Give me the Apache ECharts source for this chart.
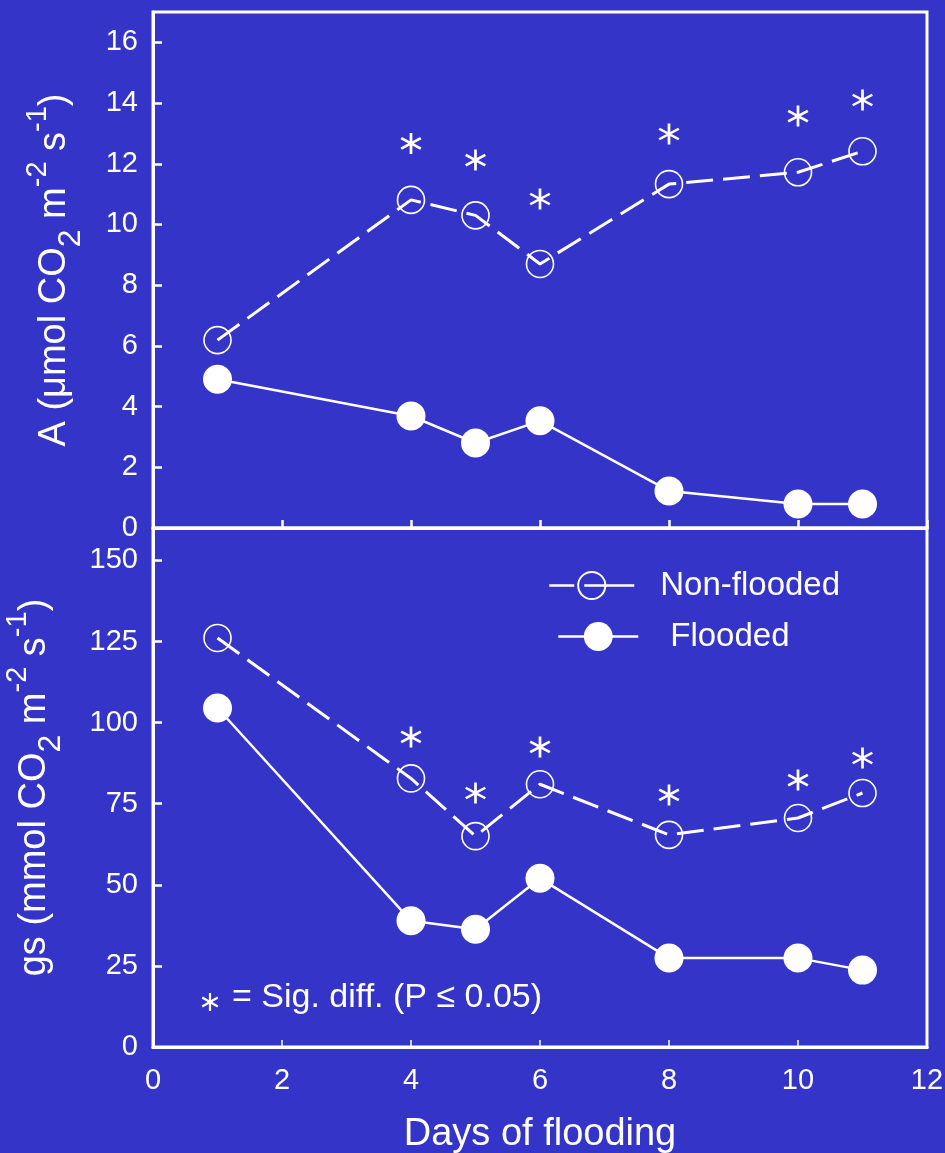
<!DOCTYPE html>
<html>
<head>
<meta charset="utf-8">
<script src="https://cdn.jsdelivr.net/npm/echarts@6/dist/echarts.min.js"></script>
<style>html,body{margin:0;padding:0;background:#3434C8;}#c{width:945px;height:1153px;}</style>
</head>
<body>
<div id="c"></div>
<script>
const days = [1, 4, 5, 6, 8, 10, 11];
const aNonFlooded = [6.19, 10.81, 10.30, 8.70, 11.33, 11.72, 12.41];
const aFlooded = [4.90, 3.69, 2.80, 3.53, 1.22, 0.79, 0.79];
const gsNonFlooded = [126.1, 82.8, 65.0, 81.0, 65.4, 70.6, 78.3];
const gsFlooded = [104.5, 38.9, 36.3, 52.0, 27.4, 27.4, 23.7];
const sigDays = [4, 5, 6, 8, 10, 11];
const aSigY = [12.67, 12.12, 10.84, 12.98, 13.57, 14.1];
const gsSigY = [95.6, 78.3, 92.5, 77.7, 82.3, 89.1];

const FONT = '"Liberation Sans", Arial, sans-serif';
const WHITE = '#ffffff';
const STAR = 'path://M8.8 0L11.2 0L11.2 20L8.8 20ZM18.06 3.96L19.26 6.04L1.94 16.04L0.74 13.96ZM19.26 13.96L18.06 16.04L0.74 6.04L1.94 3.96Z';

const pairs = (xs, ys) => xs.map((x, i) => [x, ys[i]]);

const rich = {
  n: { fontSize: 38, lineHeight: 64, verticalAlign: 'middle', color: WHITE, fontFamily: FONT },
  sub: { fontSize: 32, lineHeight: 52, verticalAlign: 'bottom', color: WHITE, fontFamily: FONT },
  sup: { fontSize: 29, lineHeight: 29, verticalAlign: 'top', color: WHITE, fontFamily: FONT }
};

function yAxis(gridIndex, max, interval, name, nameGap) {
  return {
    type: 'value', gridIndex, min: 0, max, interval,
    name, nameLocation: 'middle', nameGap, nameRotate: 90,
    nameTextStyle: { rich },
    axisLine: { show: true, lineStyle: { color: WHITE, width: 3 } },
    axisTick: { show: true, inside: true, length: 9, lineStyle: { color: WHITE, width: 2.5 } },
    axisLabel: { show: true, color: WHITE, fontSize: 29, fontFamily: FONT, margin: 15, showMaxLabel: false },
    splitLine: { show: false }
  };
}

const openStyle = {
  symbol: 'circle', symbolSize: 27,
  itemStyle: { color: 'rgba(0,0,0,0)', borderColor: WHITE, borderWidth: 1.6 },
  lineStyle: { color: WHITE, width: 3, type: [27, 10] }
};
const filledStyle = {
  symbol: 'circle', symbolSize: 29,
  itemStyle: { color: WHITE, borderColor: WHITE, borderWidth: 0 },
  lineStyle: { color: WHITE, width: 2.5, type: 'solid' }
};

function lineSeries(name, xi, yi, data, st) {
  return Object.assign({
    type: 'line', name, xAxisIndex: xi, yAxisIndex: yi, data,
    showSymbol: true, animation: false, z: 3
  }, JSON.parse(JSON.stringify(st)));
}

function starSeries(xi, yi, data) {
  return {
    type: 'scatter', xAxisIndex: xi, yAxisIndex: yi, data,
    symbol: STAR, symbolSize: 21, itemStyle: { color: WHITE, opacity: 1 }, animation: false,
    silent: true
  };
}

function starBars() {
  return [0, Math.PI / 3, -Math.PI / 3].map(r => ({
    type: 'rect', rotation: r,
    shape: { x: -1.1, y: -9, width: 2.2, height: 18 },
    style: { fill: WHITE }
  }));
}

const option = {
  backgroundColor: '#3434C8',
  animation: false,
  textStyle: { fontFamily: FONT, color: WHITE },
  grid: [
    { left: 153, top: 12, width: 774, height: 516, show: true, borderColor: WHITE, borderWidth: 3, backgroundColor: 'transparent', containLabel: false, outerBoundsMode: 'none' },
    { left: 153, top: 528, width: 774, height: 519, show: true, borderColor: WHITE, borderWidth: 3, backgroundColor: 'transparent', containLabel: false, outerBoundsMode: 'none' }
  ],
  xAxis: [
    {
      type: 'value', gridIndex: 0, min: 0, max: 12, interval: 2,
      axisLine: { show: true, onZero: false, lineStyle: { color: WHITE, width: 3 } },
      axisTick: { show: true, inside: true, length: 8, lineStyle: { color: WHITE, width: 2.5 } },
      axisLabel: { show: false }, splitLine: { show: false }
    },
    {
      type: 'value', gridIndex: 1, min: 0, max: 12, interval: 2,
      name: 'Days of flooding', nameLocation: 'middle', nameGap: 69,
      nameTextStyle: { color: WHITE, fontSize: 38, fontFamily: FONT },
      axisLine: { show: true, onZero: false, lineStyle: { color: WHITE, width: 3 } },
      axisTick: { show: true, inside: true, length: 7, lineStyle: { color: WHITE, width: 1.5 } },
      axisLabel: { show: true, color: WHITE, fontSize: 29, fontFamily: FONT, margin: 19, showMinLabel: true, showMaxLabel: true },
      splitLine: { show: false }
    }
  ],
  yAxis: [
    yAxis(0, 17, 2, '{n|A (μmol CO}{sub|2}{n| m}{sup|-2}{n| s}{sup|-1}{n|)}', 66),
    yAxis(1, 160, 25, '{n|gs (mmol CO}{sub|2}{n| m}{sup|-2}{n| s}{sup|-1}{n|)}', 86)
  ],
  legend: [
    {
      data: ['Non-flooded'], left: 543, top: 564, itemWidth: 85, itemHeight: 34,
      lineStyle: { type: [25, 10, 60, 10], width: 2.5 },
      textStyle: { color: WHITE, fontSize: 33, fontFamily: FONT, padding: [0, 0, 0, 21] },
      selectedMode: false
    },
    {
      data: ['Flooded'], left: 552, top: 615, itemWidth: 80, itemHeight: 36,
      lineStyle: { width: 2.5 },
      textStyle: { color: WHITE, fontSize: 33, fontFamily: FONT, padding: [0, 0, 0, 27] },
      selectedMode: false
    }
  ],
  graphic: [
    { type: 'group', x: 210, y: 1002, children: starBars() },
    {
      type: 'text', x: 232, y: 998,
      style: { text: '= Sig. diff. (P ≤ 0.05)', fill: WHITE, font: '34px ' + FONT, verticalAlign: 'middle', align: 'left' }
    }
  ],
  series: [
    lineSeries('Non-flooded', 0, 0, pairs(days, aNonFlooded), openStyle),
    lineSeries('Flooded', 0, 0, pairs(days, aFlooded), filledStyle),
    lineSeries('Non-flooded', 1, 1, pairs(days, gsNonFlooded), openStyle),
    lineSeries('Flooded', 1, 1, pairs(days, gsFlooded), filledStyle),
    starSeries(0, 0, pairs(sigDays, aSigY)),
    starSeries(1, 1, pairs(sigDays, gsSigY))
  ]
};

const chart = echarts.init(document.getElementById('c'), null, { renderer: 'canvas' });
chart.setOption(option);
</script>
</body>
</html>
